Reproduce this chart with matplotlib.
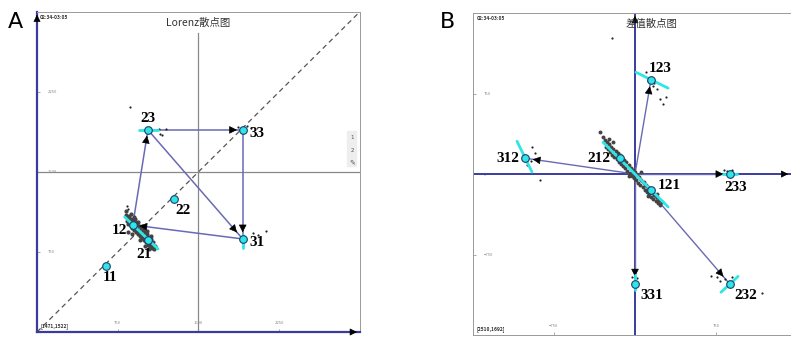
import matplotlib.pyplot as plt
import numpy as np

plt.rcParams['font.family'] = ['Noto Sans CJK SC', 'DejaVu Sans']

# Lorenz plot (RR_n, RR_n+1), ms
lor_names = ['11', '12', '21', '22', '23', '31', '33']
lor_x = [637, 890, 1031, 1275, 1031, 1912, 1912]
lor_y = [619, 1003, 862, 1247, 1894, 872, 1894]
lor_arrows = [('12', '23'), ('23', '33'), ('33', '31'), ('23', '31'), ('31', '12')]

# beats around the 12/21 cluster (dense) and stray beats near the other nodes
lor_cx = [830, 835, 845, 850, 858, 862, 870, 875, 880, 885, 892, 898, 903, 910, 915, 920,
          928, 934, 940, 946, 952, 958, 964, 970, 976, 982, 988, 994, 1000, 1006, 1012,
          1018, 1024, 1030, 1036, 1042, 1050, 1056, 1064, 1072, 1080, 1088, 900, 940, 980,
          1020, 1060, 1095, 960, 1000, 850, 880, 825, 870, 915, 1045]
lor_cy = [1100, 1040, 1075, 1010, 1090, 1050, 990, 1060, 1035, 975, 1050, 1010, 955, 1035,
          990, 940, 1010, 965, 920, 995, 950, 900, 975, 930, 880, 955, 905, 860, 935, 885,
          845, 915, 870, 820, 895, 845, 800, 870, 820, 790, 840, 780, 1080, 1030, 990,
          950, 900, 810, 860, 810, 940, 920, 1130, 1110, 1060, 780]
lor_sx = [862, 835, 845, 1130, 1145, 1165, 1195, 1870, 1950, 1985, 2010, 2050, 2128]
lor_sy = [2109, 1180, 1150, 1905, 1860, 1845, 1905, 1925, 1935, 1915, 930, 905, 947]

# difference plot (dRR_n, dRR_n+1), ms
dif_names = ['123', '312', '212', '121', '233', '331', '232']
dif_x = [148, -1019, -139, 148, 880, 0, 880]
dif_y = [880, 148, 148, -148, 0, -1028, -1028]
dif_arrows = ['123', '312', '233', '331', '232']

dif_cx = [-280, -270, -260, -250, -240, -230, -220, -210, -200, -190, -180, -170, -160,
          -150, -140, -130, -120, -110, -100, -90, -80, -70, -60, -50, -40, -30, -20, -10,
          0, 10, 20, 30, 40, 50, 60, 70, 80, 90, 100, 110, 120, 130, 140, 150, 160, 170,
          180, 190, 200, 210, 220, 235, 250, -300, -320, -240, -200, -60, 60, 200, 120]
dif_cy = [320, 250, 300, 230, 280, 205, 255, 180, 235, 160, 215, 140, 195, 115, 175, 95,
          150, 75, 130, 55, 110, 30, 85, 10, 60, -15, 40, -35, 15, -60, -10, -80, -30,
          -105, -55, -125, -75, -150, -100, -170, -125, -190, -145, -215, -170, -235,
          -195, -255, -215, -270, -240, -285, -260, 345, 390, 330, 300, -20, 20, -190, -200]
dif_sx = [-213, 100, 120, 165, 200, 230, 260, 285, 180, -950, -930, -960, -1000, -880,
          820, 850, 900, 700, 760, 790, 830, 860, 900, 1180, -25, 20]
dif_sy = [1269, 950, 870, 820, 790, 700, 650, 720, 850, 250, 200, 120, 80, -60,
          40, 30, 40, -950, -960, -1000, -980, -1010, -960, -1110, -960, -970]

# fitted axis bars through the nodes: (x0, y0, x1, y1)
lor_bars = [(947, 1894, 1125, 1894), (1912, 790, 1912, 910), (815, 1078, 1125, 778)]
dif_bars = [(9, 949, 306, 801), (-1093, 306, -954, 19), (-296, 296, 306, -306),
            (815, 0, 944, 0), (0, -940, 0, -1085), (796, -1102, 954, -954)]

NAVY = '#3b3b9e'
LINE = '#6a6ab4'
CYAN = '#2fe6e6'
label_font = dict(family='Liberation Serif', fontweight='bold', fontsize=11)

fig = plt.figure(figsize=(7.91, 3.37), dpi=100)
axA = fig.add_axes([0.0468, 0.0148, 0.408, 0.950])
axB = fig.add_axes([0.598, 0.006, 0.4096, 0.955])


def style(ax, lo, hi, ticks):
    ax.set_xlim(lo, hi)
    ax.set_ylim(lo, hi)
    ax.set_xticks(ticks)
    ax.set_yticks(ticks)
    ax.tick_params(direction='in', length=2, width=0.5, labelsize=3, colors='#888888', pad=-8)
    for lab in ax.get_yticklabels():
        lab.set_horizontalalignment('left')
    for s in ax.spines.values():
        s.set_color('#999999')
        s.set_linewidth(0.7)


def arrowhead(ax, x0, y0, x1, y1, back=0.03):
    # short black head just before the target node
    tx = x1 - (x1 - x0) * back
    ty = y1 - (y1 - y0) * back
    fx = tx - (x1 - x0) * 0.02
    fy = ty - (y1 - y0) * 0.02
    ax.annotate('', xy=(tx, ty), xytext=(fx, fy),
                arrowprops=dict(arrowstyle='-|>', color='black', lw=0.5, mutation_scale=12))


# ---- A: Lorenz plot
style(axA, 0, 3000, [750, 1500, 2250])
axA.plot([0, 3000], [0, 3000], ls=(0, (4, 3)), color='#555555', lw=0.9, zorder=1)
axA.plot([1500, 1500], [0, 2800], color='#888888', lw=0.9, zorder=1)
axA.axhline(1500, color='#888888', lw=0.9, zorder=1)
axA.spines['left'].set_color(NAVY)
axA.spines['left'].set_linewidth(1.6)
axA.spines['bottom'].set_color(NAVY)
axA.spines['bottom'].set_linewidth(1.6)
axA.annotate('', xy=(0, 3000), xytext=(0, 2900), annotation_clip=False,
             arrowprops=dict(arrowstyle='-|>', color='black', lw=0.5, mutation_scale=11))
axA.annotate('', xy=(3000, 0), xytext=(2900, 0), annotation_clip=False,
             arrowprops=dict(arrowstyle='-|>', color='black', lw=0.5, mutation_scale=11))

axA.scatter(lor_cx, lor_cy, s=9, color='#444444', zorder=3, lw=0)
axA.scatter(lor_sx, lor_sy, s=2.5, color='#222222', zorder=3, lw=0)
pos = dict(zip(lor_names, zip(lor_x, lor_y)))
for a, b in lor_arrows:
    (x0, y0), (x1, y1) = pos[a], pos[b]
    axA.plot([x0, x1], [y0, y1], color=LINE, lw=1.1, zorder=2)
    arrowhead(axA, x0, y0, x1, y1, back=0.06)
for x0, y0, x1, y1 in lor_bars:
    axA.plot([x0, x1], [y0, y1], color=CYAN, lw=2, zorder=4, solid_capstyle='round')
axA.plot(lor_x, lor_y, 'o', ms=5.5, mfc=CYAN, mec='#1d3d6e', mew=0.8, ls='none', zorder=5)
lor_offsets = {'11': (5, -12), '12': (-13, -6), '21': (-4, -14), '22': (9, -12),
               '23': (0, 11), '31': (14, -4), '33': (14, -4)}
for n, x, y in zip(lor_names, lor_x, lor_y):
    axA.annotate(n, (x, y), xytext=lor_offsets[n], textcoords='offset pixels',
                 ha='center', va='center', zorder=6, **label_font)

axA.text(0.5, 0.965, 'Lorenz散点图', transform=axA.transAxes, ha='center', va='center',
         fontsize=7.5, color='#333333')
axA.text(0.01, 0.99, '02:34-03:05', transform=axA.transAxes, ha='left', va='top',
         fontsize=3.5, fontweight='bold', color='#333333')
axA.text(0.01, 0.008, '[1471,1522]', transform=axA.transAxes, ha='left', va='bottom',
         fontsize=3.5, fontweight='bold', color='#333333')

# ---- B: difference plot
style(axB, -1500, 1500, [-750, 0, 750])
axB.plot([0, 0], [-1500, 1500], color=NAVY, lw=1.4, zorder=2)
axB.plot([-1500, 1440], [0, 0], color=NAVY, lw=1.4, zorder=2)
axB.annotate('', xy=(0, 1500), xytext=(0, 1400), annotation_clip=False,
             arrowprops=dict(arrowstyle='-|>', color='black', lw=0.5, mutation_scale=11))
axB.annotate('', xy=(1445, 0), xytext=(1345, 0), annotation_clip=False,
             arrowprops=dict(arrowstyle='-|>', color='black', lw=0.5, mutation_scale=11))

axB.scatter(dif_cx, dif_cy, s=8, color='#444444', zorder=3, lw=0)
axB.scatter(dif_sx, dif_sy, s=2.5, color='#222222', zorder=3, lw=0)
dpos = dict(zip(dif_names, zip(dif_x, dif_y)))
for n in dif_arrows:
    x1, y1 = dpos[n]
    axB.plot([0, x1], [0, y1], color=LINE, lw=1.0, zorder=2)
    arrowhead(axB, 0, 0, x1, y1, back=0.07)
for x0, y0, x1, y1 in dif_bars:
    axB.plot([x0, x1], [y0, y1], color=CYAN, lw=2, zorder=4, solid_capstyle='round')
axB.plot(dif_x, dif_y, 'o', ms=5.5, mfc=CYAN, mec='#1d3d6e', mew=0.8, ls='none', zorder=5)
dif_offsets = {'123': (9, 11), '312': (-17, 0), '212': (-21, 0), '121': (18, 4),
               '233': (6, -13), '331': (17, -11), '232': (16, -11)}
for n, x, y in zip(dif_names, dif_x, dif_y):
    axB.annotate(n, (x, y), xytext=dif_offsets[n], textcoords='offset pixels',
                 ha='center', va='center', zorder=6, **label_font)

axB.text(0.55, 0.965, '差值散点图', transform=axB.transAxes, ha='center', va='center',
         fontsize=7.5, color='#333333')
axB.text(0.01, 0.99, '02:34-03:05', transform=axB.transAxes, ha='left', va='top',
         fontsize=3.5, fontweight='bold', color='#333333')
axB.text(0.01, 0.008, '[2510,1692]', transform=axB.transAxes, ha='left', va='bottom',
         fontsize=3.5, fontweight='bold', color='#333333')

# small toolbar beside panel A
fig.patches.append(plt.Rectangle((347 / 791, 1 - 166 / 337), 9 / 791, 35 / 337,
                                 transform=fig.transFigure, color='#eeeeee', zorder=0))
for i, t in enumerate(['1', '2', '✎']):
    fig.text(352 / 791, 1 - (138 + i * 12) / 337, t, ha='center', va='center',
             fontsize=4 if i < 2 else 5, color='#555555', family='DejaVu Sans')

fig.text(15 / 791, 1 - 22 / 337, 'A', fontsize=16, ha='center', va='center', family='DejaVu Sans')
fig.text(448 / 791, 1 - 22 / 337, 'B', fontsize=16, ha='center', va='center', family='DejaVu Sans')

fig.savefig('out.png', dpi=100)
